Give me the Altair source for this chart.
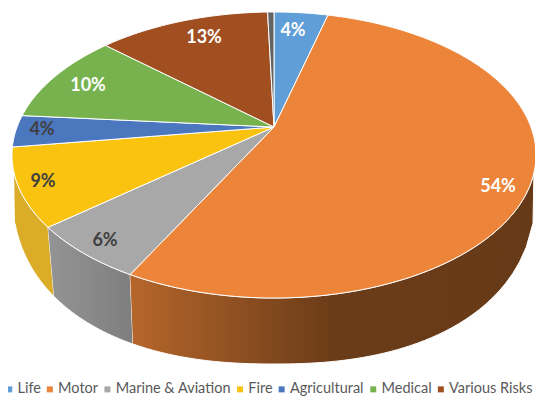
import altair as alt
import numpy as np
import pandas as pd

categories = ["Life", "Motor", "Marine & Aviation", "Fire", "Agricultural", "Medical", "Various Risks"]
colors = ["#5F9ED6", "#EC853A", "#A8A8A8", "#F9C30F", "#4B77BE", "#77B24F", "#A14F20"]
edge_angles = [0, 11.9, 213.3, 239.6, 273.2, 286.0, 320.0, 358.6]
sliver_color = "#636363"
label_texts = ["4%", "54%", "6%", "9%", "4%", "10%", "13%"]
label_colors = ["#FFFFFF", "#FFFFFF", "#404040", "#404040", "#404040", "#FFFFFF", "#FFFFFF"]
label_x = [293, 498, 105, 43, 42, 88, 204]
label_y = [31, 187, 241, 182, 130, 86, 38]

W, H = 527, 388
CX, CY, A, B = 274, 155, 262, 143
AX, AY = 274, 127
LC, LB, LP = 187, 177, 2.3


def top(t):
    r = np.radians(t)
    return CX + A * np.sin(r), CY - B * np.cos(r)


def low(x):
    u = np.minimum(np.abs(x - CX) / A, 1)
    return LC + LB * (1 - u ** LP) ** (1 / LP)


xs = alt.Scale(domain=[8, 8 + W], range=[0, W])
ys = alt.Scale(domain=[8, 8 + H], range=[0, H])


def poly(px, py, fill):
    d = pd.DataFrame({"x": px, "y": py, "i": range(len(px))})
    return alt.Chart(d).mark_line(fill=fill, stroke="#FFFFFF", strokeWidth=1, strokeJoin="round").encode(
        x=alt.X("x:Q", scale=xs, axis=None),
        y=alt.Y("y:Q", scale=ys, axis=None),
        order="i:Q",
    )


def wall(t1, t2, x1, x2, fill):
    ts = np.linspace(t1, t2, 60)
    ux, uy = top(ts)
    lx = np.linspace(x2, x1, 60)
    return poly(list(ux) + list(lx), list(uy) + list(low(lx)), fill)


def grad(stops):
    return alt.Gradient(gradient="linear", x1=0, y1=0, x2=1, y2=0,
                        stops=[alt.GradientStop(offset=o, color=c) for o, c in stops])


layers = [
    wall(262.8, 239.6, 15, 54, "#DBAC27"),
    wall(239.6, 213.3, 54, 133, grad([(0, "#949494"), (1, "#7E7E7E")])),
    wall(213.3, 97.2, 133, 533, grad([(0, "#B6662B"), (0.5, "#6B3C18"), (1, "#673A17")])),
]

slice_colors = colors + [sliver_color]
edges = edge_angles + [360]
for k in range(len(slice_colors)):
    ts = np.linspace(edges[k], edges[k + 1], max(2, int(edges[k + 1] - edges[k]) + 2))
    ex, ey = top(ts)
    layers.append(poly([AX] + list(ex) + [AX], [AY] + list(ey) + [AY], slice_colors[k]))

labels = pd.DataFrame({"x": label_x, "y": label_y, "t": label_texts, "c": label_colors})
layers.append(alt.Chart(labels).mark_text(font="Lato", fontWeight="bold", fontSize=18).encode(
    x=alt.X("x:Q", scale=xs, axis=None),
    y=alt.Y("y:Q", scale=ys, axis=None),
    text="t:N",
    color=alt.Color("c:N", scale=None),
))

leg = pd.DataFrame({"cat": categories, "x": AX, "y": AY})
layers.append(alt.Chart(leg).mark_square(size=0).encode(
    x=alt.X("x:Q", scale=xs, axis=None),
    y=alt.Y("y:Q", scale=ys, axis=None),
    fill=alt.Fill("cat:N", scale=alt.Scale(domain=categories, range=colors),
                  legend=alt.Legend(title=None, orient="none", legendX=-6, legendY=374, direction="horizontal",
                                    columns=7, symbolType="square", symbolSize=36, symbolOpacity=1,
                                    symbolStrokeWidth=0, labelFont="Lato", labelFontSize=14.5,
                                    labelColor="#595959", columnPadding=1.6, labelOffset=1, padding=0)),
))

chart = alt.layer(*layers).resolve_scale(color="independent").properties(
    width=W, height=H, padding=0, autosize=alt.AutoSizeParams(type="none")
).configure_view(stroke=None)

chart.save("out.html", embed_options={"renderer": "svg", "actions": False})
